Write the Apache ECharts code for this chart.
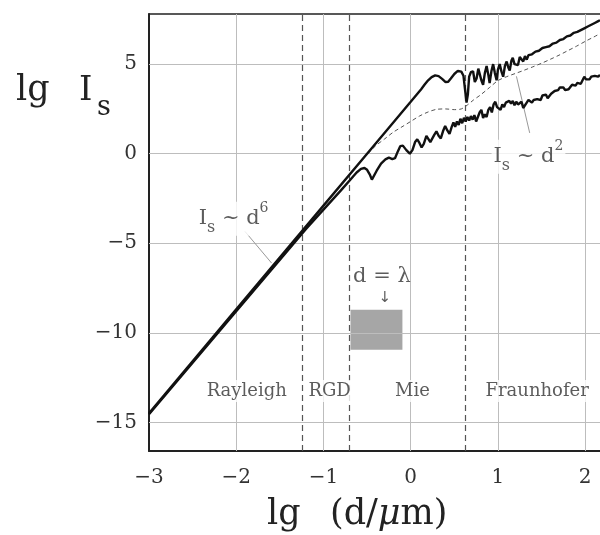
<!DOCTYPE html>
<html><head><meta charset="utf-8">
<script src="https://cdn.jsdelivr.net/npm/echarts@6/dist/echarts.min.js"></script>
<style>html,body{margin:0;padding:0;background:#fff}#c{width:600px;height:535px}</style>
</head><body><div id="c"></div>
<script>
// ---- data ----
const xTicks = [-3, -2, -1, 0, 1, 2];
const yTicks = [-15, -10, -5, 0, 5];
const regionBounds = [-1.24, -0.71, 0.63];
const regionNames = ['Rayleigh', 'RGD', 'Mie', 'Fraunhofer'];
const regionCenters = [-1.88, -0.93, 0.02, 1.45];

// upper solid curve (lg Is vs lg d)
const upperCurve = [
 [-3,-14.49],[-2,-8.69],[-1,-2.9],[-0.5,0.0],[0,2.9],[0.12,3.6],[0.16,3.86],[0.2,4.1],[0.24,4.28],[0.28,4.37],
 [0.32,4.33],[0.36,4.18],[0.4,4.0],[0.43,4.02],[0.46,4.2],[0.5,4.45],[0.54,4.62],[0.58,4.58],[0.605,4.35],[0.625,3.5],
 [0.64,2.85],[0.655,3.3],[0.67,4.3],[0.69,4.55],[0.715,4.6],[0.735,4.0],[0.755,4.2],[0.775,4.75],[0.79,4.8],[0.81,4.1],
 [0.83,3.85],[0.85,4.5],[0.87,4.9],[0.89,4.4],[0.905,3.95],[0.925,4.6],[0.945,5.0],[0.965,4.5],[0.985,4.1],[1.0,4.7],
 [1.02,5.0],[1.04,4.6],[1.06,4.3],[1.08,4.9],[1.1,5.15],[1.12,4.8],[1.135,4.65],[1.155,5.2],[1.17,5.35],[1.19,5.0],
 [1.21,5.1],[1.23,4.95],[1.25,5.4],[1.27,5.45],[1.29,5.15],[1.31,5.45],[1.33,5.25],[1.35,5.5],[1.37,5.4],[1.39,5.55],
 [1.41,5.45],[1.43,5.7],[1.45,5.6],[1.47,5.75],[1.49,5.65],[1.51,5.9],[1.53,5.8],[1.55,5.95],[1.57,5.85],[1.59,6.0],
 [1.61,5.95],[1.63,6.15],[1.65,6.05],[1.67,6.2],[1.69,6.15],[1.71,6.35],[1.73,6.3],[1.75,6.4],[1.77,6.35],[1.79,6.55],
 [1.81,6.45],[1.83,6.6],[1.85,6.55],[1.87,6.75],[1.89,6.65],[1.91,6.8],[1.93,6.75],[1.95,6.9],[1.97,6.85],[1.99,7.0],
 [2.01,7.05],[2.03,7.1],[2.05,7.05],[2.07,7.2],[2.09,7.15],[2.11,7.3],[2.13,7.3],[2.15,7.4],[2.17,7.45]
];

// lower solid curve
const lowerCurve = [
 [-3,-14.55],[-2,-8.8],[-1.2,-4.2],[-0.8,-2.05],[-0.7,-1.5],[-0.62,-1.05],[-0.57,-0.85],[-0.53,-0.8],[-0.5,-0.9],[-0.47,-1.15],
 [-0.445,-1.45],[-0.425,-1.4],[-0.39,-0.95],[-0.34,-0.55],[-0.29,-0.32],[-0.25,-0.22],[-0.21,-0.3],[-0.18,-0.25],[-0.15,0.1],[-0.12,0.42],
 [-0.09,0.45],[-0.05,0.2],[-0.01,0.0],[0.02,0.2],[0.05,0.65],[0.075,0.8],[0.1,0.6],[0.125,0.35],[0.15,0.55],[0.18,1.0],
 [0.2,0.95],[0.225,0.65],[0.245,0.6],[0.27,1.05],[0.295,1.25],[0.32,1.0],[0.345,0.85],[0.37,1.25],[0.395,1.55],[0.42,1.3],
 [0.445,1.1],[0.47,1.5],[0.49,1.75],[0.51,1.5],[0.53,1.8],[0.55,1.6],[0.57,1.95],[0.59,1.7],[0.61,2.0],[0.63,1.8],
 [0.65,2.05],[0.67,1.85],[0.69,2.1],[0.71,1.9],[0.73,2.15],[0.75,1.8],[0.77,1.75],[0.79,2.3],[0.81,2.45],[0.83,2.0],
 [0.85,2.2],[0.87,2.05],[0.89,2.45],[0.91,2.6],[0.93,2.3],[0.95,2.75],[0.97,2.9],[0.99,2.6],[1.01,2.5],[1.03,2.45],
 [1.05,2.75],[1.07,2.6],[1.09,2.85],[1.11,2.75],[1.13,2.95],[1.15,2.8],[1.17,2.95],[1.19,2.7],[1.21,2.9],[1.23,2.75],
 [1.25,2.7],[1.27,2.9],[1.29,2.55],[1.31,2.5],[1.33,2.85],[1.35,3.0],[1.37,3.05],[1.39,2.85],[1.41,3.0],[1.43,2.9],
 [1.45,3.05],[1.47,3.15],[1.49,3.0],[1.51,3.25],[1.53,3.15],[1.55,3.3],[1.57,3.1],[1.59,3.15],[1.61,3.35],[1.63,3.25],
 [1.65,3.5],[1.67,3.45],[1.69,3.55],[1.71,3.7],[1.73,3.6],[1.75,3.7],[1.77,3.55],[1.79,3.65],[1.81,3.6],[1.83,3.55],
 [1.85,3.85],[1.87,3.95],[1.89,3.8],[1.91,3.95],[1.93,3.85],[1.95,3.9],[1.97,4.1],[1.99,4.3],[2.01,4.15],[2.03,4.1],
 [2.05,4.15],[2.07,4.3],[2.09,4.2],[2.11,4.35],[2.13,4.25],[2.15,4.3],[2.17,4.4]
];

// dashed mean curve
const meanCurve = [
 [-0.6,-0.56],[-0.5,-0.05],[-0.4,0.45],[-0.3,0.82],[-0.2,1.2],[-0.1,1.5],[0.0,1.8],[0.1,2.1],[0.2,2.33],[0.3,2.48],
 [0.4,2.5],[0.5,2.46],[0.58,2.5],[0.65,2.72],[0.72,3.0],[0.8,3.28],[0.9,3.68],[1.0,4.08],[1.1,4.3],[1.2,4.48],
 [1.3,4.66],[1.4,4.85],[1.5,5.05],[1.6,5.27],[1.7,5.5],[1.8,5.75],[1.9,6.0],[2.0,6.27],[2.1,6.52],[2.17,6.7]
];

// ---- chart ----
const SERIF = "'DejaVu Serif', 'Liberation Serif', serif";
const minusFmt = v => (v < 0 ? '\u2212' + Math.abs(v) : String(v));
const chart = echarts.init(document.getElementById('c'), null, {renderer: 'canvas'});

const gridLineStyle = {color: '#bdbdbd', width: 1, type: 'solid'};
const markLines = [];
xTicks.slice(1).forEach(v => markLines.push({xAxis: v, lineStyle: gridLineStyle}));
yTicks.forEach(v => markLines.push({yAxis: v, lineStyle: gridLineStyle}));
regionBounds.forEach(v => markLines.push({xAxis: v, lineStyle: {color: '#555', width: 1.2, type: [6, 4]}}));

const labelBase = {
  show: true, position: 'inside', fontFamily: SERIF, color: '#333',
  backgroundColor: '#fff'
};

const option = {
  animation: false,
  backgroundColor: '#fff',
  grid: {left: 149, right: 0, top: 14, bottom: 84},
  xAxis: [{
    type: 'value', min: -3, max: 2.17, interval: 1, position: 'bottom',
    axisLine: {show: true, onZero: false, lineStyle: {color: '#222', width: 2}},
    axisTick: {show: false},
    splitLine: {show: false},
    axisLabel: {
      fontFamily: SERIF, fontSize: 20, color: '#333', margin: 17,
      showMaxLabel: false,
      formatter: v => (Number.isInteger(v) ? minusFmt(v) : '')
    }
  }, {
    type: 'value', min: -3, max: 2.17, position: 'top',
    axisLine: {show: true, onZero: false, lineStyle: {color: '#222', width: 1.5}},
    axisTick: {show: false}, axisLabel: {show: false}, splitLine: {show: false}
  }],
  yAxis: {
    type: 'value', min: -16.6, max: 7.8,
    axisLine: {show: true, onZero: false, lineStyle: {color: '#222', width: 2}},
    axisTick: {show: false},
    splitLine: {show: false},
    axisLabel: {
      customValues: yTicks, fontFamily: SERIF, fontSize: 20, color: '#333', margin: 12,
      formatter: minusFmt
    }
  },
  graphic: [
    {type: 'text', x: 16, y: 91, style: {text: 'lg', fontFamily: SERIF, fontSize: 35, fill: '#222', verticalAlign: 'middle'}},
    {type: 'text', x: 79, y: 91.5, style: {text: 'I', fontFamily: SERIF, fontSize: 34, fill: '#222', verticalAlign: 'middle'}},
    {type: 'text', x: 97, y: 108, style: {text: 's', fontFamily: SERIF, fontSize: 27, fill: '#222', verticalAlign: 'middle'}},
    {type: 'text', x: 267, y: 515, style: {text: 'lg', fontFamily: SERIF, fontSize: 35, fill: '#222', verticalAlign: 'middle'}},
    {type: 'text', x: 330, y: 515, style: {
      text: '(d/{m|\u03bc}m)', fontFamily: SERIF, fontSize: 35, fill: '#222', verticalAlign: 'middle', align: 'left',
      rich: {m: {fontFamily: SERIF, fontSize: 35, fontStyle: 'italic', fill: '#222'}}
    }}
  ],
  series: [
    {
      name: 'frame', type: 'line', data: [], silent: true, z: 1,
      markLine: {silent: true, symbol: 'none', z: 1, label: {show: false}, data: markLines},
      markArea: {silent: true, z: 1, itemStyle: {color: '#a6a6a6'},
        data: [[{coord: [-0.69, -8.72]}, {coord: [-0.095, -10.95]}]]}
    },
    {
      name: 'regions', type: 'scatter', symbolSize: 1, z: 4, silent: true,
      itemStyle: {color: 'transparent'},
      label: Object.assign({}, labelBase, {fontSize: 18, padding: [2, 1], formatter: '{b}'}),
      data: regionNames.map((n, i) => ({name: n, value: [regionCenters[i], -13.25]}))
    },
    {
      name: 'leader6', type: 'line', z: 2, symbol: 'none', silent: true,
      lineStyle: {color: '#999', width: 1},
      data: [[-1.9, -4.34], [-1.594, -6.11]]
    },
    {
      name: 'leader2', type: 'line', z: 2, symbol: 'none', silent: true,
      lineStyle: {color: '#999', width: 1},
      data: [[1.212, 4.32], [1.364, 1.16]]
    },
    {
      name: 'mean', type: 'line', z: 3, symbol: 'none', silent: true, smooth: 0.3,
      lineStyle: {color: '#555', width: 1, type: [4, 3]},
      data: meanCurve
    },
    {
      name: 'lower', type: 'line', z: 3, symbol: 'none', silent: true,
      lineStyle: {color: '#111', width: 2.4},
      data: lowerCurve
    },
    {
      name: 'upper', type: 'line', z: 3, symbol: 'none', silent: true,
      lineStyle: {color: '#111', width: 2.4},
      data: upperCurve
    },
    {
      name: 'notes', type: 'scatter', symbolSize: 1, z: 5, silent: true,
      itemStyle: {color: 'transparent'},
      label: Object.assign({}, labelBase, {
        padding: [0, 2], formatter: p => p.name,
        rich: {
          i: {fontFamily: SERIF, fontSize: 21, color: '#333', lineHeight: 34},
          s: {fontFamily: SERIF, fontSize: 16, color: '#333', lineHeight: 22, verticalAlign: 'bottom'},
          p: {fontFamily: SERIF, fontSize: 14, color: '#333', lineHeight: 16, verticalAlign: 'top'}
        }
      }),
      data: [
        {name: '{i|I}{s|s}{i| ~ d}{p|6}', value: [-2.03, -3.63]},
        {name: '{i|I}{s|s}{i| ~ d}{p|2}', value: [1.35, -0.17]},
        {name: '{i|d = \u03bb}', value: [-0.33, -6.87], label: {backgroundColor: 'transparent'}},
        {name: '{i|\u2193}', value: [-0.297, -8.04], label: {backgroundColor: 'transparent', fontSize: 16,
          rich: {i: {fontFamily: "'DejaVu Sans', sans-serif", fontSize: 15, color: '#333'}}}}
      ]
    }
  ]
};
chart.setOption(option);
</script>
</body></html>
